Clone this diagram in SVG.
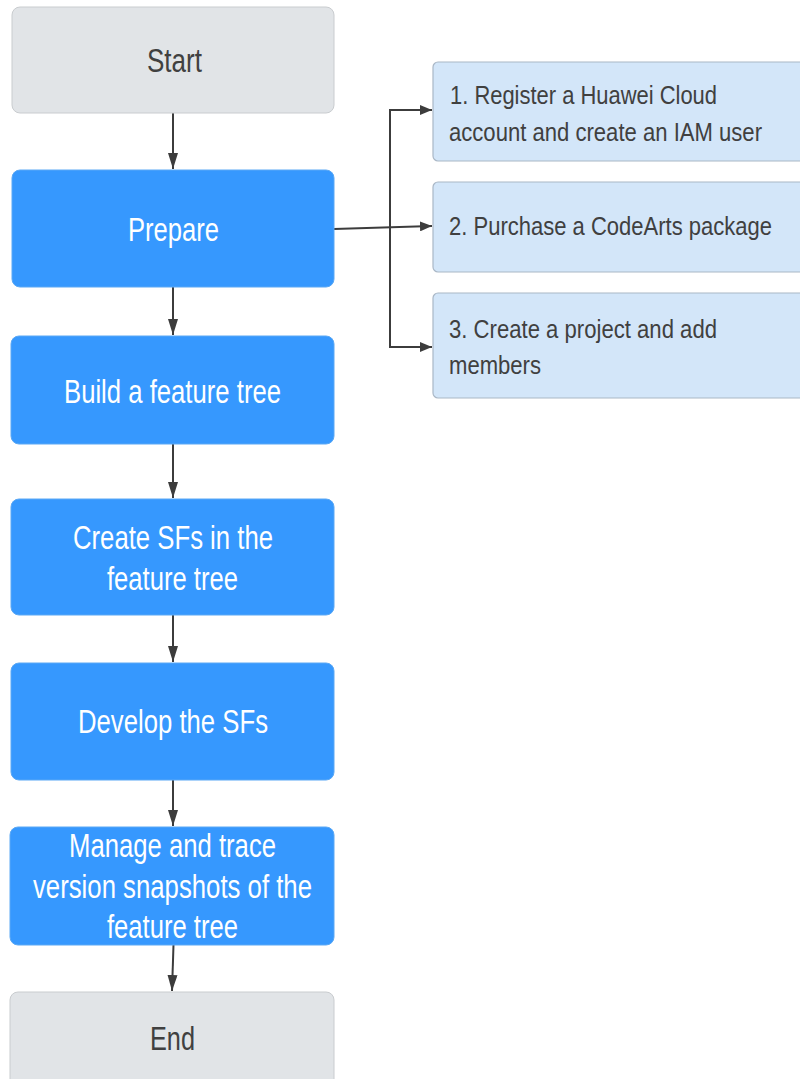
<svg xmlns="http://www.w3.org/2000/svg" width="800" height="1079" viewBox="0 0 800 1079">
<defs>
<style>
.gray{fill:#e1e4e7;stroke:#c9cccf;stroke-width:1}
.blue{fill:#3698fe;stroke:#5aa8f5;stroke-width:1}
.light{fill:#d3e6f9;stroke:#a9b7c6;stroke-width:1.2}
.t{font-family:"Liberation Sans",Arial,sans-serif;text-anchor:middle}
.tl{font-family:"Liberation Sans",Arial,sans-serif;font-size:26.5px;fill:#404040}
.dk{fill:#404040;font-size:33px}
.wt{fill:#ffffff;font-size:33px}
.c{fill:none;stroke:#3c3c3c;stroke-width:2}
</style>
<marker id="ah" viewBox="0 0 12 10" refX="12" refY="5" markerWidth="12" markerHeight="10" markerUnits="userSpaceOnUse" orient="auto">
<path d="M0,0 L12,5 L0,10 Z" fill="#3c3c3c"/>
</marker>
<marker id="av" viewBox="0 0 16 10" refX="16" refY="5" markerWidth="16" markerHeight="10" markerUnits="userSpaceOnUse" orient="auto">
<path d="M0,0 L16,5 L0,10 Z" fill="#3c3c3c"/>
</marker>
</defs>
<rect width="800" height="1079" fill="#ffffff"/>
<g id="connectors">
<line class="c" x1="173" y1="113" x2="173" y2="169" marker-end="url(#av)"/>
<line class="c" x1="173" y1="287" x2="173" y2="335" marker-end="url(#av)"/>
<line class="c" x1="173" y1="444" x2="173" y2="498" marker-end="url(#av)"/>
<line class="c" x1="173" y1="615" x2="173" y2="662" marker-end="url(#av)"/>
<line class="c" x1="173" y1="780" x2="173" y2="826" marker-end="url(#av)"/>
<line class="c" x1="173.5" y1="945" x2="172" y2="991" marker-end="url(#av)"/>
<line class="c" x1="334" y1="229" x2="432" y2="226" marker-end="url(#ah)"/>
<polyline class="c" points="432,110 390,110 390,347 432,347"/>
<line class="c" x1="420" y1="110" x2="432" y2="110" marker-end="url(#ah)"/>
<line class="c" x1="420" y1="347" x2="432" y2="347" marker-end="url(#ah)"/>
</g>
<g id="start">
<rect class="gray" x="12" y="7" width="322" height="106" rx="8"/>
<text class="t dk" x="174.5" y="72" textLength="55" lengthAdjust="spacingAndGlyphs">Start</text>
</g>
<g id="prepare">
<rect class="blue" x="12" y="170" width="322" height="117" rx="8"/>
<text class="t wt" x="173.5" y="241" textLength="91" lengthAdjust="spacingAndGlyphs">Prepare</text>
</g>
<g id="build">
<rect class="blue" x="11" y="336" width="323" height="108" rx="8"/>
<text class="t wt" x="172.5" y="403" textLength="217" lengthAdjust="spacingAndGlyphs">Build a feature tree</text>
</g>
<g id="create">
<rect class="blue" x="11" y="499" width="323" height="116" rx="8"/>
<text class="t wt" x="173" y="549" textLength="200" lengthAdjust="spacingAndGlyphs">Create SFs in the</text>
<text class="t wt" x="172.5" y="590" textLength="131" lengthAdjust="spacingAndGlyphs">feature tree</text>
</g>
<g id="develop">
<rect class="blue" x="11" y="663" width="323" height="117" rx="8"/>
<text class="t wt" x="173" y="733" textLength="190" lengthAdjust="spacingAndGlyphs">Develop the SFs</text>
</g>
<g id="manage">
<rect class="blue" x="10" y="827" width="324" height="118" rx="8"/>
<text class="t wt" x="172.5" y="857" textLength="207" lengthAdjust="spacingAndGlyphs">Manage and trace</text>
<text class="t wt" x="172.5" y="898" textLength="279" lengthAdjust="spacingAndGlyphs">version snapshots of the</text>
<text class="t wt" x="172.5" y="938" textLength="131" lengthAdjust="spacingAndGlyphs">feature tree</text>
</g>
<g id="end">
<rect class="gray" x="10" y="992" width="324" height="100" rx="8"/>
<text class="t dk" x="172.5" y="1050" textLength="45" lengthAdjust="spacingAndGlyphs">End</text>
</g>
<g id="step1">
<rect class="light" x="433" y="62" width="380" height="99" rx="5"/>
<text class="tl" x="450" y="104" textLength="267" lengthAdjust="spacingAndGlyphs">1. Register a Huawei Cloud</text>
<text class="tl" x="449" y="141" textLength="313" lengthAdjust="spacingAndGlyphs">account and create an IAM user</text>
</g>
<g id="step2">
<rect class="light" x="433" y="182" width="380" height="90" rx="5"/>
<text class="tl" x="449" y="235" textLength="323" lengthAdjust="spacingAndGlyphs">2. Purchase a CodeArts package</text>
</g>
<g id="step3">
<rect class="light" x="433" y="293" width="380" height="105" rx="5"/>
<text class="tl" x="449" y="338" textLength="268" lengthAdjust="spacingAndGlyphs">3. Create a project and add</text>
<text class="tl" x="449" y="374" textLength="92" lengthAdjust="spacingAndGlyphs">members</text>
</g>
</svg>
